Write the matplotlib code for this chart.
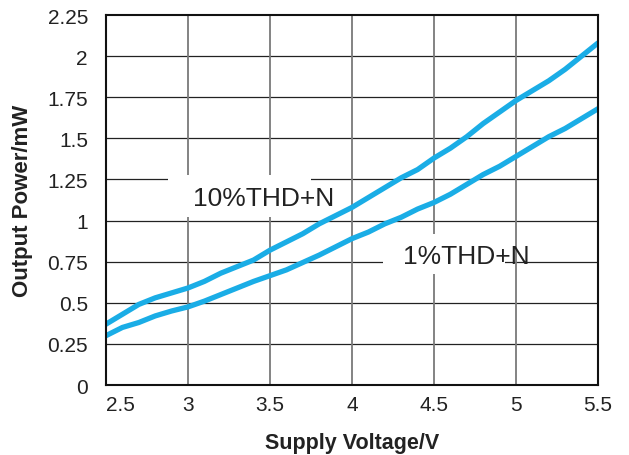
import matplotlib
matplotlib.use("Agg")
import matplotlib.pyplot as plt
from matplotlib.patches import Rectangle

plt.rcParams['font.family'] = ['Liberation Sans', 'DejaVu Sans']

voltage = [2.5, 2.6, 2.7, 2.8, 2.9, 3.0, 3.1, 3.2, 3.3, 3.4, 3.5, 3.6, 3.7, 3.8,
           3.9, 4.0, 4.1, 4.2, 4.3, 4.4, 4.5, 4.6, 4.7, 4.8, 4.9, 5.0, 5.1, 5.2,
           5.3, 5.4, 5.5]
power_10 = [0.37, 0.43, 0.49, 0.53, 0.56, 0.59, 0.63, 0.68, 0.72, 0.76, 0.82,
            0.87, 0.92, 0.98, 1.03, 1.08, 1.14, 1.20, 1.26, 1.31, 1.38, 1.44,
            1.51, 1.59, 1.66, 1.73, 1.79, 1.85, 1.92, 2.00, 2.08]
power_1 = [0.30, 0.35, 0.38, 0.42, 0.45, 0.475, 0.51, 0.55, 0.59, 0.63, 0.665,
           0.70, 0.745, 0.79, 0.84, 0.89, 0.93, 0.98, 1.02, 1.07, 1.11, 1.16,
           1.22, 1.28, 1.33, 1.39, 1.45, 1.51, 1.56, 1.62, 1.68]
x_ticks = [2.5, 3, 3.5, 4, 4.5, 5, 5.5]
x_tick_labels = ['2.5', '3', '3.5', '4', '4.5', '5', '5.5']
y_ticks = [0, 0.25, 0.5, 0.75, 1, 1.25, 1.5, 1.75, 2, 2.25]
y_tick_labels = ['0', '0.25', '0.5', '0.75', '1', '1.25', '1.5', '1.75', '2', '2.25']
label_10 = '10%THD+N'
label_1 = '1%THD+N'

LINE_COLOR = '#1aade6'

fig = plt.figure(figsize=(6.29, 4.56), dpi=100)
ax = fig.add_axes([0.1685, 0.1535, 0.7822, 0.8114])
ax.set_xlim(2.5, 5.5)
ax.set_ylim(0, 2.25)

# grid
for yv in y_ticks[1:-1]:
    ax.axhline(yv, color='#222222', lw=0.9, zorder=1)
for xv in x_ticks[1:-1]:
    ax.axvline(xv, color='#7a7a7a', lw=1.3, zorder=1)

# white boxes behind annotations
ax.add_patch(Rectangle((2.88, 1.02), 0.87, 0.26, facecolor='white',
                       edgecolor='none', zorder=2))
ax.add_patch(Rectangle((4.19, 0.675), 0.74, 0.245, facecolor='white',
                       edgecolor='none', zorder=2))

ax.plot(voltage, power_10, color=LINE_COLOR, lw=3.8, zorder=3,
        solid_capstyle='round', solid_joinstyle='round')
ax.plot(voltage, power_1, color=LINE_COLOR, lw=3.8, zorder=3,
        solid_capstyle='round', solid_joinstyle='round')

ax.text(3.46, 1.14, label_10, fontsize=19, color='#222222', ha='center',
        va='center', zorder=4)
ax.text(4.70, 0.785, label_1, fontsize=19, color='#222222', ha='center',
        va='center', zorder=4)

ax.set_xticks(x_ticks)
ax.set_xticklabels(x_tick_labels)
ax.set_yticks(y_ticks)
ax.set_yticklabels(y_tick_labels)
ax.tick_params(axis='both', length=0, labelsize=15, labelcolor='#222222')
ax.tick_params(axis='y', pad=13)
ax.tick_params(axis='x', pad=7)
ax.get_xticklabels()[0].set_horizontalalignment('left')

for s in ax.spines.values():
    s.set_linewidth(1.5)
    s.set_color('#111111')
    s.set_zorder(5)

ax.set_xlabel('Supply Voltage/V', fontsize=15.5, fontweight='bold',
              color='#222222', labelpad=13)
ax.set_ylabel('Output Power/mW', fontsize=16, fontweight='bold',
              color='#222222', labelpad=10)

fig.savefig('out.png', dpi=100)
